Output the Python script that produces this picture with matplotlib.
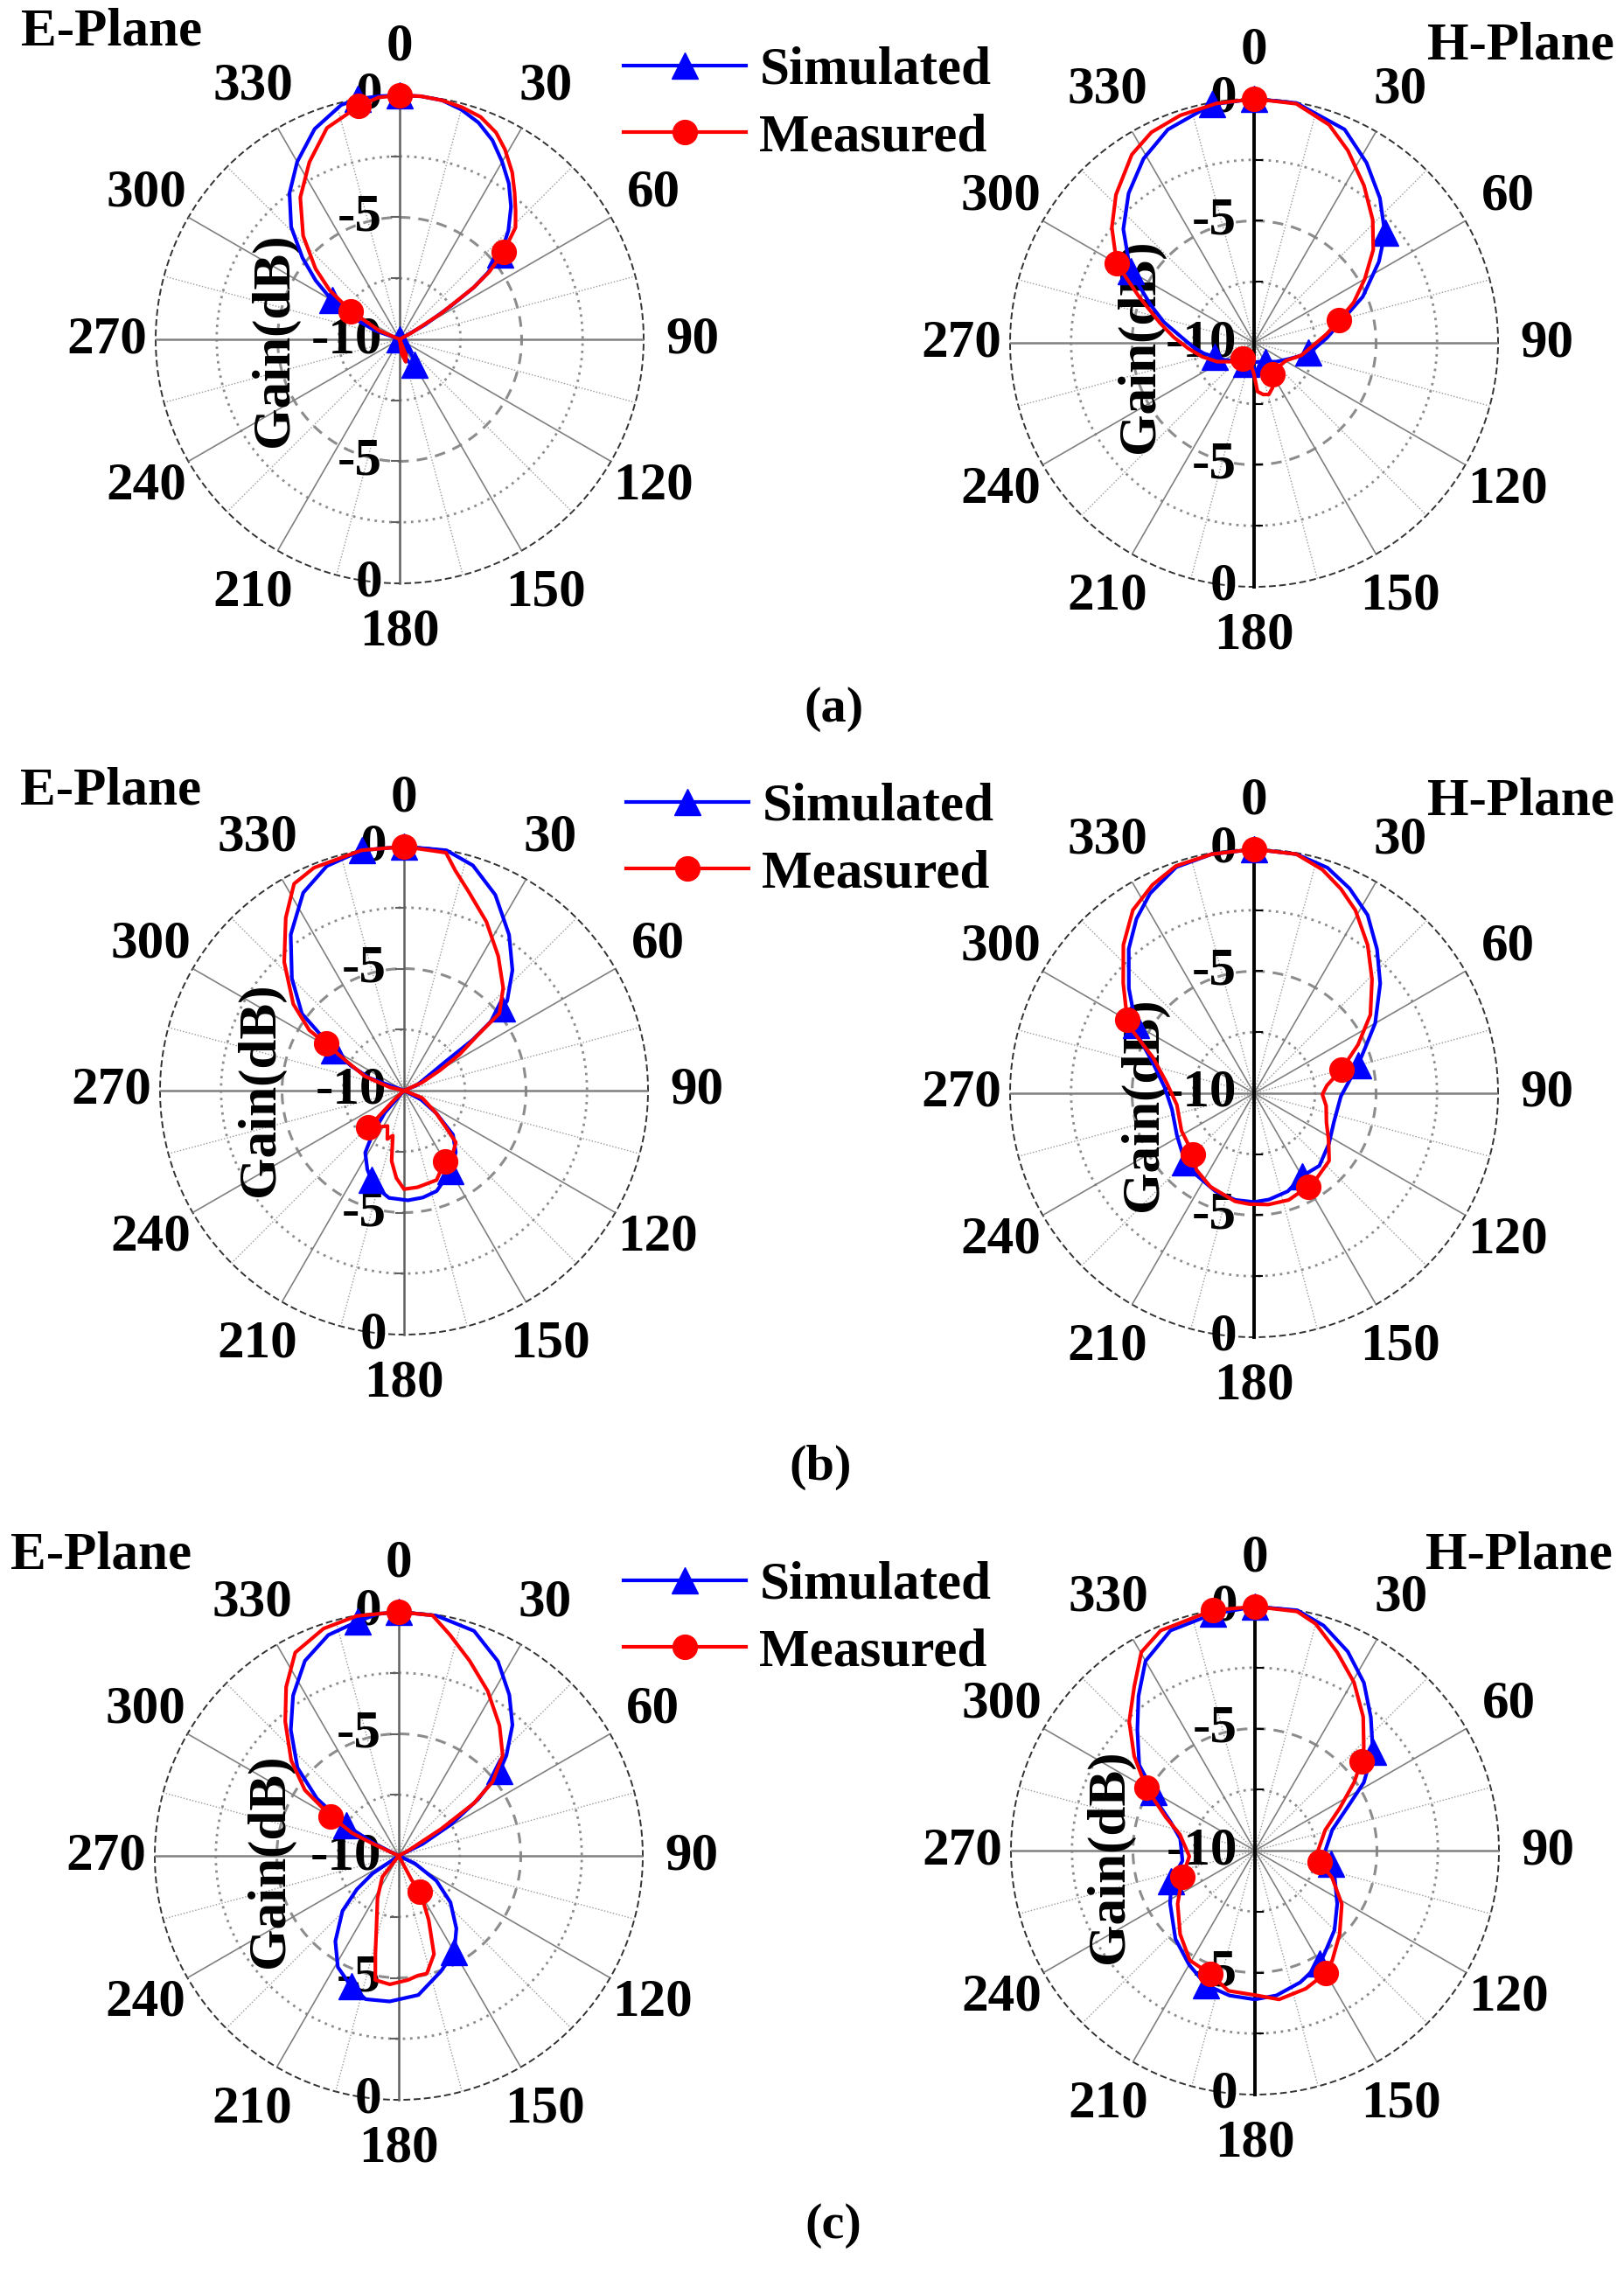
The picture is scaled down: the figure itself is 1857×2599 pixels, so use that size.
import numpy as np
import matplotlib
matplotlib.use('Agg')
import matplotlib.pyplot as plt
from matplotlib.lines import Line2D

plt.rcParams['font.family'] = ['Liberation Serif', 'DejaVu Serif']
plt.rcParams['font.weight'] = 'bold'

# ---------------- data (angle in degrees, gain in dB; -10 = centre) ----------------
# (a) E-plane
ea_sim_ang = [0, 5, 10, 15, 20, 25, 30, 35, 40, 45, 50, 53, 55, 57, 60, 65, 130, 140, 145, 150, 158, 165, 172, 180, 190,
              285, 290, 295, 300, 305, 310, 316, 323, 330, 338, 346, 350, 355, 360]
ea_sim_gain = [0, 0, -0.05, -0.25, -0.55, -1.0, -1.6, -2.2, -2.9, -3.7, -4.6, -5.5, -6.3, -7.5, -8.8, -10, -10, -9.4, -8.9,
               -8.8, -9.0, -9.3, -9.7, -10, -10, -10, -8.9, -7.8, -6.8, -5.8, -4.8, -3.6, -2.5, -1.6, -0.7, -0.1, 0, 0, 0]
ea_sim_marks = [0, 50, 150, 190, 300, 350]
ea_meas_ang = [0, 5, 10, 15, 20, 25, 29, 34, 38, 42, 46, 50, 53, 55, 58, 61, 65, 150, 158, 165, 172, 180,
               285, 293, 300, 305, 310, 317, 325, 333, 341, 350, 355, 360]
ea_meas_gain = [0, 0, -0.05, -0.15, -0.3, -0.65, -1.1, -1.75, -2.35, -2.9, -3.4, -4.45, -5.4, -6.3, -8.0, -9.4, -10,
                -10, -9.3, -9.05, -9.4, -10, -10, -9.1, -7.7, -6.5, -5.5, -4.2, -2.9, -1.85, -0.84, -0.3, -0.05, 0]
ea_meas_marks = [0, 50, 300, 350]

# (a) H-plane
ha_sim_ang = [0, 10, 23, 32, 41, 50, 57, 67, 77, 86, 95, 100, 107, 114, 130, 150, 165, 180, 200, 222, 240, 250, 258,
              266, 276, 283, 290, 300, 311, 320, 329, 338, 350, 360]
ha_sim_gain = [0, -0.02, -0.5, -1.3, -2.14, -3.0, -3.9, -5.16, -6.4, -7.0, -7.5, -7.75, -8.1, -8.4, -8.8, -9.1, -9.2,
               -9.2, -9.1, -9.0, -8.6, -8.3, -7.9, -7.5, -6.9, -6.2, -5.5, -4.15, -2.9, -2.0, -1.2, -0.57, -0.08, 0]
ha_sim_marks = [0, 50, 100, 150, 200, 250, 300, 350]
ha_meas_ang = [0, 10, 19, 26, 35, 44, 52, 60, 68, 75, 83, 91, 105, 119, 135, 150, 158, 164, 170, 176, 180, 188, 200,
               217, 230, 243, 255, 265, 274, 282, 292, 300, 309, 317, 327, 334, 342, 351, 360]
ha_meas_gain = [0, -0.05, -0.55, -1.23, -2.14, -3.0, -3.8, -4.76, -5.6, -6.4, -7.0, -7.5, -8.0, -8.5, -8.6, -8.5,
                -8.0, -7.8, -7.85, -8.0, -8.7, -9.1, -9.3, -9.2, -8.8, -8.3, -7.8, -7.3, -6.7, -6.05, -4.9, -3.5,
                -2.5, -1.7, -0.8, -0.4, -0.2, -0.07, 0]
ha_meas_marks = [0, 75, 150, 217, 300]

# (b) E-plane
eb_sim_ang = [0, 10, 17, 25, 34, 42, 49, 50, 51, 53.5, 55, 60, 67, 72, 112, 118, 125, 132, 140, 150, 162, 170, 178,
              188, 197, 200, 205, 212, 216, 221, 228, 285, 290, 295, 300, 307, 315, 324, 333, 341, 350, 360]
eb_sim_gain = [0, 0, -0.35, -1.15, -2.3, -3.36, -4.4, -4.75, -5.1, -6.5, -7.9, -9.0, -9.4, -10, -10, -9.2, -8.4, -7.3,
               -6.7, -6.2, -5.67, -5.55, -5.5, -5.56, -5.9, -6.1, -6.44, -7.0, -7.8, -8.8, -10, -10, -8.5, -7.6,
               -6.7, -4.76, -3.5, -2.1, -0.9, -0.27, 0, 0]
eb_sim_marks = [0, 50, 150, 200, 300, 350]
eb_meas_ang = [0, 10, 13, 18, 26, 35, 44, 51, 53, 57, 60.5, 66, 72, 105, 112, 125, 132, 135, 143, 150, 160, 172, 180,
               185, 190, 194, 199, 205, 214, 224, 227, 232, 280, 283, 290, 297, 301, 302.5, 308, 317, 325.6, 332,
               338, 350, 360]
eb_meas_gain = [0, -0.1, -0.72, -1.43, -2.3, -3.27, -4.15, -4.97, -6.2, -7.3, -8.3, -9.2, -10, -10, -9.2, -8.4, -7.6,
                -7.0, -6.7, -6.66, -6.1, -6.0, -5.96, -6.4, -7.07, -8.1, -7.9, -8.4, -8.2, -7.9, -9.5, -10, -10,
                -9.4, -8.3, -7.36, -6.26, -5.4, -4.24, -2.8, -1.42, -0.4, -0.15, 0, 0]
eb_meas_marks = [0, 150, 224, 301]

# (b) H-plane
hb_sim_ang = [0, 10, 18, 25, 32.5, 40.5, 49, 60, 68, 75, 77, 92, 110, 124, 138, 150, 161, 172, 180, 190, 201.5,
              215.7, 225, 241.5, 259, 273.6, 287, 295, 300, 310, 319, 326, 332.5, 341, 350, 360]
hb_sim_gain = [0, -0.05, -0.28, -0.74, -1.34, -2.24, -3.15, -4.27, -5.1, -5.6, -5.74, -6.44, -6.52, -6.3, -6.0,
               -6.07, -5.75, -5.6, -5.54, -5.56, -5.68, -5.9, -6.0, -6.4, -6.57, -6.33, -5.65, -4.86, -4.4, -3.3,
               -2.17, -1.38, -0.77, -0.2, -0.05, 0]
hb_sim_marks = [0, 75, 150, 225, 300]
hb_meas_ang = [0, 10, 17, 23, 29, 37.5, 46, 56, 65, 75, 84, 91, 100, 112, 122, 132, 143.6, 150, 162, 172.6, 182.5,
               190, 205, 217, 225, 242.6, 261.4, 276.6, 289.5, 297, 300, 310, 318.6, 326.5, 334, 341, 350, 360]
hb_meas_gain = [0, -0.05, -0.42, -0.9, -1.43, -2.35, -3.28, -4.25, -5.3, -6.3, -7.0, -7.2, -7.0, -6.8, -6.4, -5.86,
                -5.67, -5.58, -5.4, -5.4, -5.45, -5.5, -5.77, -6.07, -6.47, -6.65, -6.8, -6.4, -5.6, -4.44, -4.0,
                -3.0, -1.9, -1.0, -0.5, -0.15, -0.05, 0]
hb_meas_marks = [0, 75, 150, 225, 300]

# (c) E-plane
ec_sim_ang = [0, 9, 18.5, 27, 34.5, 41, 47, 50, 54.5, 59, 63.5, 70, 110, 115.5, 123.5, 132, 141.6, 150, 160, 172,
              183.6, 193, 200, 208.7, 216.6, 225.6, 231.4, 236, 242, 290, 296.5, 300, 305, 311, 319.4, 326.6, 334.3,
              342.3, 350, 355, 360]
ec_sim_gain = [0, -0.04, -0.28, -1.05, -2.0, -2.9, -3.97, -4.6, -6.0, -7.5, -8.9, -10, -10, -9.26, -8.15, -7.15,
               -6.2, -5.45, -4.96, -4.24, -4.02, -3.97, -4.3, -4.8, -5.64, -6.77, -7.8, -8.7, -10, -10, -8.9, -7.5,
               -5.9, -4.5, -3.2, -2.13, -1.13, -0.5, -0.25, -0.05, 0]
ec_sim_marks = [0, 50, 150, 200, 300, 350]
ec_meas_ang = [0, 8, 13, 20, 28.4, 37.7, 46, 51.7, 55, 57.6, 61, 65, 145, 152, 149, 155, 160.3, 166.6, 171, 175.7,
               184, 190.7, 193.4, 197.2, 206.7, 218, 225, 290, 295, 296, 300.3, 305, 311.6, 319.8, 326.3, 333,
               341.7, 350, 360]
ec_meas_gain = [0, -0.05, -0.7, -1.5, -2.33, -3.25, -4.08, -5.1, -6.24, -7.95, -9.56, -10, -10, -8.87, -8.3, -7.1,
                -5.72, -5.04, -5.03, -4.9, -4.72, -4.82, -5.86, -6.9, -8.06, -8.9, -10, -10, -8.9, -7.87, -6.77,
                -5.3, -4.1, -2.79, -1.68, -0.65, -0.19, -0.02, 0]
ec_meas_marks = [0, 149, 300.3]

# (c) H-plane
hc_sim_ang = [0, 10, 17, 25, 33, 41, 50, 58, 64, 75, 91, 100, 109, 123, 135, 145, 150, 161, 171.5, 180, 190, 200,
              210, 222, 238, 250, 262, 279, 289, 297, 300, 306.5, 315.7, 323, 330, 339, 350, 360]
hc_sim_gain = [0, 0, -0.36, -1.0, -1.8, -2.76, -3.69, -4.74, -5.7, -6.72, -7.13, -6.85, -6.54, -5.98, -5.39, -4.96,
               -4.66, -4.29, -4.0, -3.9, -3.97, -4.14, -4.6, -5.13, -5.9, -6.35, -7.0, -6.9, -6.33, -5.44, -5.2,
               -4.1, -3.1, -2.07, -1.03, -0.34, -0.15, 0]
hc_sim_marks = [0, 50, 100, 150, 200, 250, 300, 350]
hc_meas_ang = [0, 10, 15, 22.5, 30.5, 39, 46.6, 50, 55.5, 63.5, 73.7, 91, 100, 109.5, 121.6, 134.7, 144.8, 150,
               159.8, 170.8, 179.5, 190.7, 200, 210.7, 221.8, 235.4, 250, 265, 282, 290.5, 300, 308, 315.7, 323.6,
               330.2, 336.8, 350, 360]
hc_meas_gain = [0, -0.05, -0.38, -1.2, -2.0, -2.95, -3.86, -4.3, -5.07, -6.12, -7.0, -7.43, -7.3, -6.64, -5.82,
                -5.12, -4.5, -4.2, -3.97, -3.82, -4.07, -4.15, -4.62, -4.77, -5.4, -6.15, -6.83, -7.3, -6.86, -6.1,
                -4.85, -3.72, -2.62, -1.66, -0.63, -0.19, 0, 0]
hc_meas_marks = [0, 50, 100, 150, 200, 250, 300, 350]

angle_labels = [0, 30, 60, 90, 120, 150, 180, 210, 240, 270, 300, 330]
radial_labels = ['0', '-5', '-10', '-5', '0']
legend_labels = ['Simulated', 'Measured']
panel_labels = ['(a)', '(b)', '(c)']

# ---------------- layout ----------------
W, H = 1857, 2599
fig = plt.figure(figsize=(W / 100, H / 100), dpi=100)
FS = 44
R = 279
BLUE = '#0000FF'
RED = '#FF0000'


def fx(x):
    return x / W


def fy(y):
    return 1 - y / H


panels = [
    dict(cx=457, cy=388, plane='E', sim=(ea_sim_ang, ea_sim_gain, ea_sim_marks),
         meas=(ea_meas_ang, ea_meas_gain, ea_meas_marks), gain_off=143, gain_dy=1, tx=24, ty=37),
    dict(cx=1434, cy=392, plane='H', sim=(ha_sim_ang, ha_sim_gain, ha_sim_marks),
         meas=(ha_meas_ang, ha_meas_gain, ha_meas_marks), gain_off=130, gain_dy=4, tx=1846, ty=53),
    dict(cx=462, cy=1247, plane='E', sim=(eb_sim_ang, eb_sim_gain, eb_sim_marks),
         meas=(eb_meas_ang, eb_meas_gain, eb_meas_marks), gain_off=164, gain_dy=-1, tx=23, ty=905),
    dict(cx=1434, cy=1250, plane='H', sim=(hb_sim_ang, hb_sim_gain, hb_sim_marks),
         meas=(hb_meas_ang, hb_meas_gain, hb_meas_marks), gain_off=126, gain_dy=13, tx=1846, ty=916),
    dict(cx=456, cy=2122, plane='E', sim=(ec_sim_ang, ec_sim_gain, ec_sim_marks),
         meas=(ec_meas_ang, ec_meas_gain, ec_meas_marks), gain_off=147, gain_dy=6, tx=12, ty=1778),
    dict(cx=1435, cy=2116, plane='H', sim=(hc_sim_ang, hc_sim_gain, hc_sim_marks),
         meas=(hc_meas_ang, hc_meas_gain, hc_meas_marks), gain_off=166, gain_dy=7, tx=1844, ty=1778),
]

th = np.linspace(0, 2 * np.pi, 721)

for p in panels:
    cx, cy = p['cx'], p['cy']
    ax = fig.add_axes([fx(cx - R), fy(cy + R), 2 * R / W, 2 * R / H], projection='polar')
    ax.set_theta_zero_location('N')
    ax.set_theta_direction(-1)
    ax.set_ylim(-10, 0)
    ax.set_xticks([])
    ax.set_yticks([])
    ax.grid(False)
    ax.spines['polar'].set_visible(False)
    ax.patch.set_alpha(0)

    # radial circles
    ax.plot(th, np.full_like(th, -7.5), color='#8c8c8c', lw=2.0, ls=(0, (1, 2)), zorder=1)
    ax.plot(th, np.full_like(th, -2.5), color='#8c8c8c', lw=2.0, ls=(0, (1, 2)), zorder=1)
    ax.plot(th, np.full_like(th, -5.0), color='#8c8c8c', lw=2.2, ls=(0, (4, 3)), zorder=1)
    ax.plot(th, np.zeros_like(th), color='#333333', lw=1.4, ls=(0, (4, 2)), zorder=1, clip_on=False)

    # spokes
    for a in range(0, 360, 15):
        if a % 180 == 0:
            continue
        t = np.deg2rad(a)
        if a % 30 == 0:
            lw = 1.8 if a % 90 == 0 else 1.2
            ax.plot([t, t], [-10, 0], color='#808080', lw=lw, zorder=1)
        else:
            ax.plot([t, t], [-10, 0], color='#9a9a9a', lw=1.0, ls=(0, (1, 1.5)), zorder=1)
    if p['plane'] == 'E':
        vcol, vlw = '#606060', 1.8
    else:
        vcol, vlw = 'black', 2.8
    ax.plot([0, 0], [0, -10], color=vcol, lw=vlw, zorder=2, clip_on=False)
    ax.plot([np.pi, np.pi], [-10, 0], color=vcol, lw=vlw, zorder=2, clip_on=False)

    # small ticks on the vertical axis
    tl = 9 / (2 * R)
    sgn = -1 if p['plane'] == 'E' else 1
    for k in [0.25, 0.5, 0.75]:
        for s in [1, -1]:
            yy = 0.5 + s * 0.5 * (1 - k)
            ax.plot([0.5, 0.5 + sgn * tl], [yy, yy], transform=ax.transAxes, color=vcol, lw=1.5,
                    clip_on=False, zorder=2)

    # angle labels
    for a in angle_labels:
        ax.text(np.deg2rad(a), 2.0, str(a), ha='center', va='center', fontsize=FS,
                fontweight='bold', clip_on=False, zorder=3)

    # radial labels
    for k, s in zip([1, 0.5, 0, -0.5, -1], radial_labels):
        ax.text(0.5 - 20 / (2 * R), 0.5 + 0.5 * k, s, transform=ax.transAxes, ha='right', va='center',
                fontsize=FS, fontweight='bold', zorder=3)

    ax.text(0.5 - p['gain_off'] / (2 * R), 0.5 - p['gain_dy'] / (2 * R), 'Gain(dB)', transform=ax.transAxes,
            rotation=90, ha='center', va='center', fontsize=FS, fontweight='bold', zorder=3)

    # data curves
    for (ang, gain, marks), col, mk in [(p['sim'], BLUE, '^'), (p['meas'], RED, 'o')]:
        ang = np.asarray(ang, dtype=float)
        gain = np.asarray(gain, dtype=float)
        idx = [int(np.argmin(np.abs(ang - m))) for m in marks]
        ax.plot(np.deg2rad(ang), gain, color=col, lw=3.0, marker=mk, ms=22 if mk == '^' else 20,
                markevery=idx, zorder=5 if col == RED else 4, clip_on=False)

    # titles
    if p['plane'] == 'E':
        fig.text(fx(p['tx']), fy(p['ty']), 'E-Plane', ha='left', va='center', fontsize=FS, fontweight='bold')
    else:
        fig.text(fx(p['tx']), fy(p['ty']), 'H-Plane', ha='right', va='center', fontsize=FS, fontweight='bold')

# legends
handles = [Line2D([], [], color=BLUE, lw=3.0, marker='^', ms=22),
           Line2D([], [], color=RED, lw=3.0, marker='o', ms=20)]
for lx, ly in [(713, 53), (716, 895), (713, 1785)]:
    fig.legend(handles=handles, labels=legend_labels, loc='upper left', bbox_to_anchor=(fx(lx), fy(ly)),
               frameon=False, borderpad=0, borderaxespad=0, handlelength=140 / 61, handletextpad=15 / 61,
               labelspacing=0.33, numpoints=1, prop={'size': FS, 'weight': 'bold'})

for lab, (x, y) in zip(panel_labels, [(953, 811), (938, 1678), (953, 2545)]):
    fig.text(fx(x), fy(y), lab, ha='center', va='center', fontsize=FS - 2, fontweight='bold')

fig.savefig('out.png', dpi=100)
